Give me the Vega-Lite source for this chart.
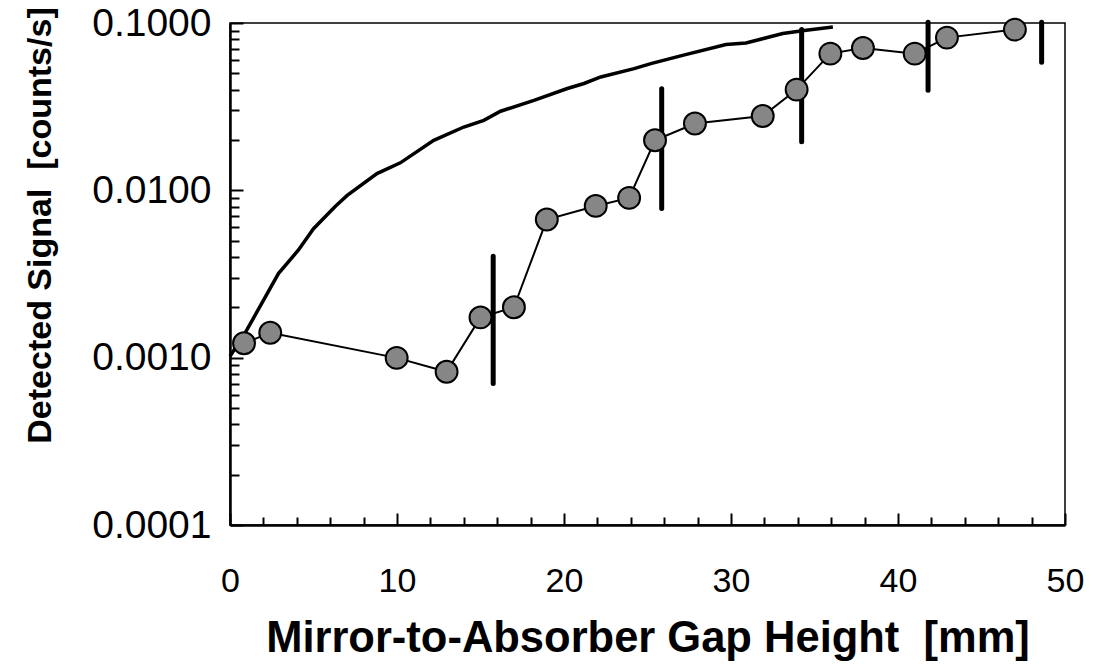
{
  "$schema": "https://vega.github.io/schema/vega-lite/v6.json",
  "width": 835,
  "height": 502,
  "autosize": "none",
  "padding": {"left": 230, "top": 23, "right": 30, "bottom": 144},
  "background": "white",
  "config": {"view": {"stroke": "black", "strokeWidth": 1.5}, "font": "Liberation Sans"},
  "datasets": {
    "curve": [
      {"x": 0, "y": 0.00102}, {"x": 0.9, "y": 0.0014}, {"x": 1.9, "y": 0.00211}, {"x": 2.9, "y": 0.00318},
      {"x": 4.1, "y": 0.0044}, {"x": 5.0, "y": 0.0059}, {"x": 6.3, "y": 0.0080}, {"x": 7.0, "y": 0.0093},
      {"x": 8.8, "y": 0.0126}, {"x": 10.2, "y": 0.0146}, {"x": 12.2, "y": 0.0199}, {"x": 14.0, "y": 0.0239},
      {"x": 15.2, "y": 0.0262}, {"x": 16.2, "y": 0.0297}, {"x": 18.2, "y": 0.0345}, {"x": 20.2, "y": 0.0406},
      {"x": 21.2, "y": 0.0435}, {"x": 22.2, "y": 0.0476}, {"x": 24.2, "y": 0.0534}, {"x": 25.2, "y": 0.0572},
      {"x": 27.1, "y": 0.0641}, {"x": 29.7, "y": 0.0743}, {"x": 30.9, "y": 0.0760}, {"x": 33.1, "y": 0.0865},
      {"x": 34.5, "y": 0.0905}, {"x": 36.1, "y": 0.0946}
    ],
    "points": [
      {"x": 0.84, "y": 0.00122}, {"x": 2.41, "y": 0.00141}, {"x": 9.98, "y": 0.000997}, {"x": 12.97, "y": 0.000823},
      {"x": 15.0, "y": 0.00174}, {"x": 17.0, "y": 0.0020}, {"x": 18.97, "y": 0.00669}, {"x": 21.9, "y": 0.00807},
      {"x": 23.9, "y": 0.00901}, {"x": 25.45, "y": 0.0199}, {"x": 27.84, "y": 0.0251}, {"x": 31.9, "y": 0.0278},
      {"x": 33.93, "y": 0.0400}, {"x": 35.95, "y": 0.0656}, {"x": 37.9, "y": 0.0709}, {"x": 41.0, "y": 0.0656},
      {"x": 42.93, "y": 0.0818}, {"x": 47.0, "y": 0.0913}
    ],
    "errors": [
      {"x": 15.76, "y": 0.000702, "y2": 0.00404},
      {"x": 25.85, "y": 0.00778, "y2": 0.0405},
      {"x": 34.23, "y": 0.0195, "y2": 0.0913},
      {"x": 41.8, "y": 0.0396, "y2": 0.101},
      {"x": 48.6, "y": 0.0582, "y2": 0.101}
    ]
  },
  "encoding": {
    "x": {
      "field": "x", "type": "quantitative",
      "scale": {"domain": [0, 50], "nice": false, "zero": false},
      "axis": {
        "title": "Mirror-to-Absorber Gap Height \u00a0[mm]",
        "values": [0,2,4,6,8,10,12,14,16,18,20,22,24,26,28,30,32,34,36,38,40,42,44,46,48,50],
        "labelExpr": "datum.value % 10 === 0 ? datum.label : ''",
        "labelFont": "Liberation Sans", "labelFontSize": 34, "labelColor": "black",
        "labelBaseline": "alphabetic", "labelPadding": 78,
        "labelOverlap": false, "labelBound": false, "labelFlush": false,
        "tickColor": "black", "tickWidth": 2,
        "tickSize": {"condition": {"test": "datum.value % 10 === 0", "value": -12}, "value": -8},
        "domainColor": "black", "domainWidth": 2.5, "grid": false,
        "titleFont": "Liberation Sans", "titleFontSize": 43.5, "titleFontWeight": "bold", "titleColor": "black",
        "titleBaseline": "alphabetic", "titleY": 126
      }
    },
    "y": {
      "field": "y", "type": "quantitative",
      "scale": {"type": "log", "domain": [0.0001, 0.1], "nice": false},
      "axis": {
        "title": "Detected Signal \u00a0[counts/s]",
        "values": [0.0001,0.0002,0.0003,0.0004,0.0005,0.0006,0.0007,0.0008,0.0009,0.001,0.002,0.003,0.004,0.005,0.006,0.007,0.008,0.009,0.01,0.02,0.03,0.04,0.05,0.06,0.07,0.08,0.09,0.1],
        "labelExpr": "abs(log(datum.value)/LN10 - round(log(datum.value)/LN10)) < 0.001 ? format(datum.value, '.4f') : ''",
        "labelFont": "Liberation Sans", "labelFontSize": 39, "labelColor": "black",
        "labelPadding": 32,
        "labelOverlap": false, "labelBound": false, "labelFlush": false,
        "tickColor": "black", "tickWidth": 2,
        "tickSize": {"condition": {"test": "abs(log(datum.value)/LN10 - round(log(datum.value)/LN10)) < 0.001", "value": -13}, "value": -9},
        "domainColor": "black", "domainWidth": 2.5, "grid": false,
        "titleFont": "Liberation Sans", "titleFontSize": 34, "titleFontWeight": "bold", "titleColor": "black",
        "titleAngle": -90, "titleAlign": "center", "titleBaseline": "alphabetic",
        "titleX": -180, "titleY": 202
      }
    }
  },
  "layer": [
    {"data": {"name": "curve"}, "mark": {"type": "line", "color": "black", "strokeWidth": 3.5}},
    {"data": {"name": "errors"}, "mark": {"type": "rule", "color": "black", "strokeWidth": 5, "strokeCap": "round"}, "encoding": {"y2": {"field": "y2"}}},
    {"data": {"name": "points"}, "mark": {"type": "line", "color": "black", "strokeWidth": 2}},
    {"data": {"name": "points"}, "mark": {"type": "point", "shape": "circle", "filled": true, "fill": "#868686", "stroke": "black", "strokeWidth": 2, "size": 480, "opacity": 1}}
  ]
}
